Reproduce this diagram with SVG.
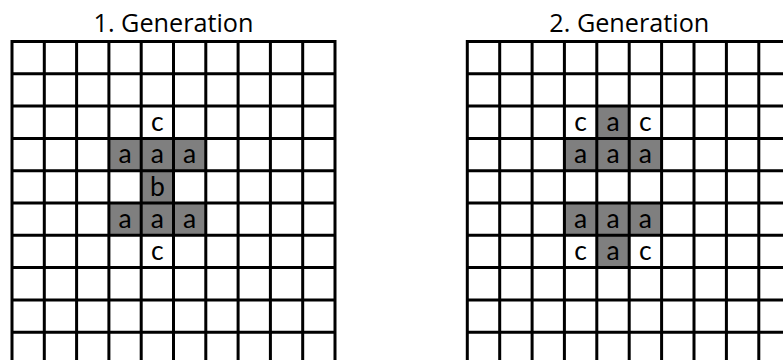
<svg xmlns="http://www.w3.org/2000/svg" width="783" height="360" viewBox="0 0 783 360">
<style>
.title{font-family:"Open Sans","Liberation Sans",sans-serif;font-size:25px;fill:#000;text-anchor:middle}
.lt{font-family:Lato,"Open Sans",sans-serif;font-size:26.5px;fill:#000;text-anchor:middle}
.on{fill:#7f7f7f}
.grid{fill:none;stroke:#000;stroke-width:3}
</style>
<rect width="783" height="360" fill="#fff"/>
<text class="title" x="173.5" y="32" textLength="160" lengthAdjust="spacingAndGlyphs">1. Generation</text>
<text class="title" x="629.3" y="32" textLength="160" lengthAdjust="spacingAndGlyphs">2. Generation</text>
<g id="grid1">
<g id="g1-cells">
<rect class="on" x="108.9" y="138.4" width="96.9" height="32.3"/>
<rect class="on" x="141.2" y="170.7" width="32.3" height="32.3"/>
<rect class="on" x="108.9" y="203" width="96.9" height="32.3"/>
<text class="lt" x="157.35" y="131">c</text>
<text class="lt" x="125.05" y="163.3">a</text>
<text class="lt" x="157.35" y="163.3">a</text>
<text class="lt" x="189.65" y="163.3">a</text>
<text class="lt" x="157.35" y="195.6">b</text>
<text class="lt" x="125.05" y="227.9">a</text>
<text class="lt" x="157.35" y="227.9">a</text>
<text class="lt" x="189.65" y="227.9">a</text>
<text class="lt" x="157.35" y="260.2">c</text>
</g>
<path class="grid" d="M12 41.5V365M44.3 41.5V365M76.6 41.5V365M108.9 41.5V365M141.2 41.5V365M173.5 41.5V365M205.8 41.5V365M238.1 41.5V365M270.4 41.5V365M302.7 41.5V365M335 41.5V365M10.5 41.5H336.5M10.5 73.8H336.5M10.5 106.1H336.5M10.5 138.4H336.5M10.5 170.7H336.5M10.5 203H336.5M10.5 235.3H336.5M10.5 267.6H336.5M10.5 299.9H336.5M10.5 332.2H336.5"/>
</g>
<g id="grid2">
<g id="g2-cells">
<rect class="on" x="596.8" y="106.1" width="32.4" height="32.3"/>
<rect class="on" x="564.4" y="138.4" width="97.2" height="32.3"/>
<rect class="on" x="564.4" y="203" width="97.2" height="32.3"/>
<rect class="on" x="596.8" y="235.3" width="32.4" height="32.3"/>
<text class="lt" x="580.6" y="131">c</text>
<text class="lt" x="613" y="131">a</text>
<text class="lt" x="645.4" y="131">c</text>
<text class="lt" x="580.6" y="163.3">a</text>
<text class="lt" x="613" y="163.3">a</text>
<text class="lt" x="645.4" y="163.3">a</text>
<text class="lt" x="580.6" y="227.9">a</text>
<text class="lt" x="613" y="227.9">a</text>
<text class="lt" x="645.4" y="227.9">a</text>
<text class="lt" x="580.6" y="260.2">c</text>
<text class="lt" x="613" y="260.2">a</text>
<text class="lt" x="645.4" y="260.2">c</text>
</g>
<path class="grid" d="M467.3 41.5V365M499.7 41.5V365M532.1 41.5V365M564.4 41.5V365M596.8 41.5V365M629.2 41.5V365M661.6 41.5V365M694 41.5V365M726.4 41.5V365M758.8 41.5V365M791.2 41.5V365M465.8 41.5H792.7M465.8 73.8H792.7M465.8 106.1H792.7M465.8 138.4H792.7M465.8 170.7H792.7M465.8 203H792.7M465.8 235.3H792.7M465.8 267.6H792.7M465.8 299.9H792.7M465.8 332.2H792.7"/>
</g>
</svg>
